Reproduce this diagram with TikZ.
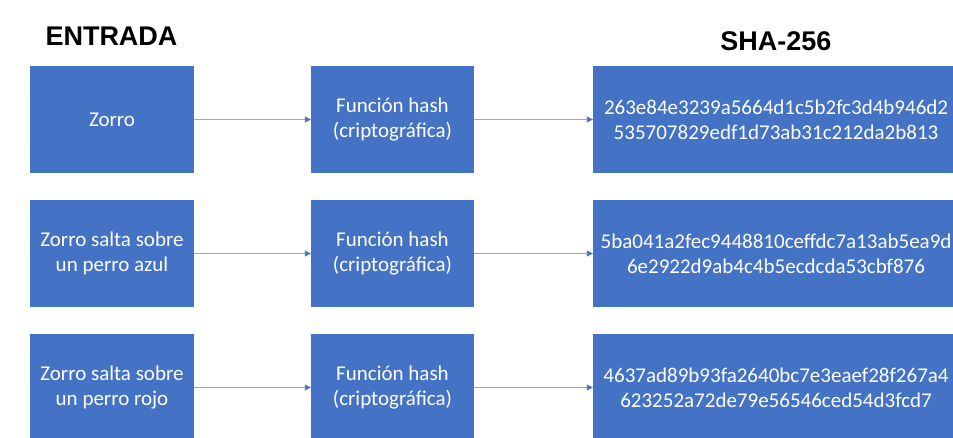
\documentclass[tikz,border=0pt]{standalone}
\usepackage{fontspec}
\setmainfont{Carlito}
\newfontfamily\headfont{Liberation Sans}
\usetikzlibrary{arrows.meta}
\definecolor{boxblue}{HTML}{4472C4}
\definecolor{linkblue}{HTML}{8EA9DB}
\tikzset{
  hashbox/.style={fill=boxblue, draw=none, text=white, align=center,
    inner sep=0pt, font=\fontsize{21}{25}\selectfont},
  inbox/.style={hashbox, minimum width=164pt, minimum height=107pt},
  fnbox/.style={hashbox, minimum width=163pt, minimum height=107pt},
  outbox/.style={hashbox, minimum width=366pt, minimum height=107pt},
  link/.style={draw=linkblue, line width=0.9pt,
    -{Triangle[length=6pt,width=6pt,fill=boxblue,color=boxblue]}},
  heading/.style={font=\headfont\bfseries\fontsize{27}{31}\selectfont, text=black, inner sep=0pt}
}
\begin{document}
\begin{tikzpicture}[x=1pt, y=-1pt]
  \useasboundingbox (0,0) rectangle (953,437);
  \fill[white] (0,0) rectangle (953,437);
  \clip (0,0) rectangle (953,437);

  % column headings
  \node[heading] (hin) at (111.5,36) {ENTRADA};
  \node[heading] (hout) at (776,41) {SHA-256};

  % row 1
  \node[inbox]  (in1)  at (112,119.5) {Zorro};
  \node[fnbox]  (fn1)  at (392.5,119.5) {Función hash\\(criptográfica)};
  \node[outbox] (out1) at (776,119.5) {263e84e3239a5664d1c5b2fc3d4b946d2\\535707829edf1d73ab31c212da2b813};

  % row 2
  \node[inbox]  (in2)  at (112,253.5) {Zorro salta sobre\\un perro azul};
  \node[fnbox]  (fn2)  at (392.5,253.5) {Función hash\\(criptográfica)};
  \node[outbox] (out2) at (776,253.5) {5ba041a2fec9448810ceffdc7a13ab5ea9d\\6e2922d9ab4c4b5ecdcda53cbf876};

  % row 3
  \node[inbox]  (in3)  at (112,387.5) {Zorro salta sobre\\un perro rojo};
  \node[fnbox]  (fn3)  at (392.5,387.5) {Función hash\\(criptográfica)};
  \node[outbox] (out3) at (776,387.5) {4637ad89b93fa2640bc7e3eaef28f267a4\\623252a72de79e56546ced54d3fcd7};

  % connectors
  \foreach \r in {1,2,3} {
    \draw[link] (in\r.east) -- (fn\r.west);
    \draw[link] (fn\r.east) -- (out\r.west);
  }
\end{tikzpicture}
\end{document}
